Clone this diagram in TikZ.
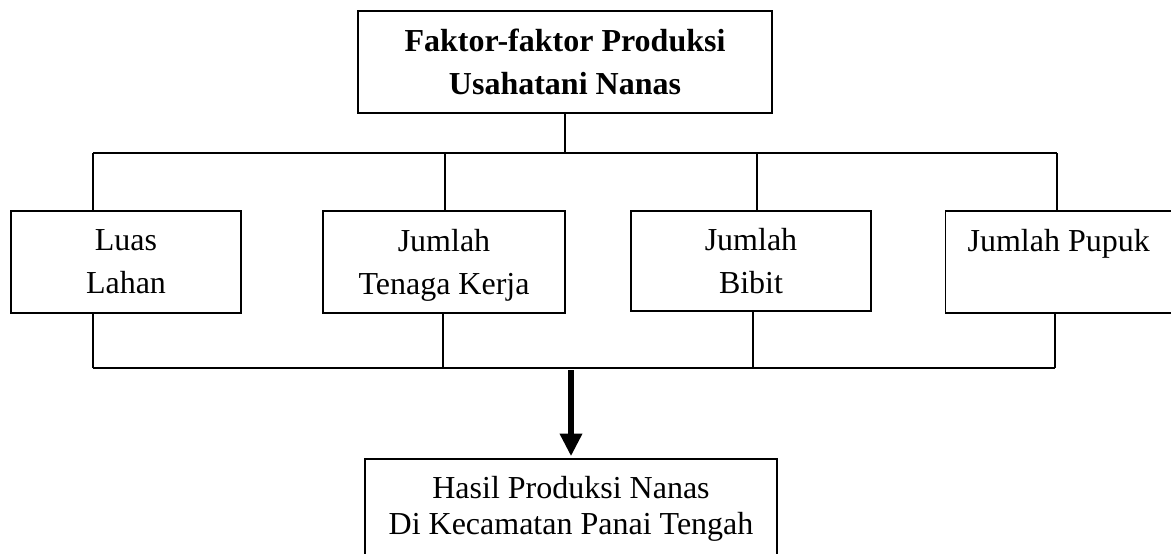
\documentclass[tikz,border=0pt]{standalone}
\usepackage{fontspec}
\setmainfont{Liberation Serif}
\usetikzlibrary{arrows.meta}

\begin{document}
\begin{tikzpicture}[x=0.375pt,y=-0.375pt,
  kotak/.style={draw,line width=0.5pt,inner sep=0pt,align=center,
    minimum height=38.25pt,font=\fontsize{12}{16}\selectfont},
  garis/.style={line width=0.5pt},
  panah/.style={line width=2.6pt,-{Triangle[width=8pt,length=8.5pt]}}]
  \path[use as bounding box,clip] (0,0) rectangle (1171,553);
  % kotak-kotak
  \node[kotak,minimum width=155.25pt,font=\fontsize{12}{16}\selectfont\bfseries]
    (faktor) at (565,62) {Faktor-faktor Produksi\\Usahatani Nanas};
  \node[kotak,minimum width=86.25pt] (lahan) at (126,262) {Luas\\Lahan};
  \node[kotak,minimum width=90.75pt] (tenaga) at (444,262) {Jumlah\\\smash{Tenaga Kerja}};
  \node[kotak,minimum width=90pt,minimum height=37.5pt] (bibit) at (751,261) {Jumlah\\Bibit};
  \node[kotak,minimum width=100pt,anchor=west] (pupuk) at (945,262)
    {Jumlah Pupuk\hspace*{15.2pt}\\\mbox{}};
  \node[kotak,minimum width=154.5pt,minimum height=37.5pt,
    font=\fontsize{12}{13.5}\selectfont]
    (hasil) at (571,509) {Hasil Produksi Nanas\\Di Kecamatan Panai Tengah};
  % garis atas
  \coordinate (a1) at (93,153); \coordinate (a2) at (445,153);
  \coordinate (a3) at (757,153); \coordinate (a4) at (1057,153);
  \draw[garis] (faktor.south) -- (faktor.south |- a1);
  \draw[garis] (a1) -- (a4);
  \draw[garis] (a1) -- (a1 |- lahan.north);
  \draw[garis] (a2) -- (a2 |- tenaga.north);
  \draw[garis] (a3) -- (a3 |- bibit.north);
  \draw[garis] (a4) -- (a4 |- pupuk.north);
  % garis bawah
  \coordinate (b1) at (93,368); \coordinate (b2) at (443,368);
  \coordinate (b3) at (753,368); \coordinate (b4) at (1055,368);
  \draw[garis] (b1) -- (b4);
  \draw[garis] (b1) -- (b1 |- lahan.south);
  \draw[garis] (b2) -- (b2 |- tenaga.south);
  \draw[garis] (b3) -- (b3 |- bibit.south);
  \draw[garis] (b4) -- (b4 |- pupuk.south);
  \coordinate (pangkal) at (571,370);
  \draw[panah,shorten >=0.8pt] (pangkal) -- (hasil.north);
\end{tikzpicture}
\end{document}
